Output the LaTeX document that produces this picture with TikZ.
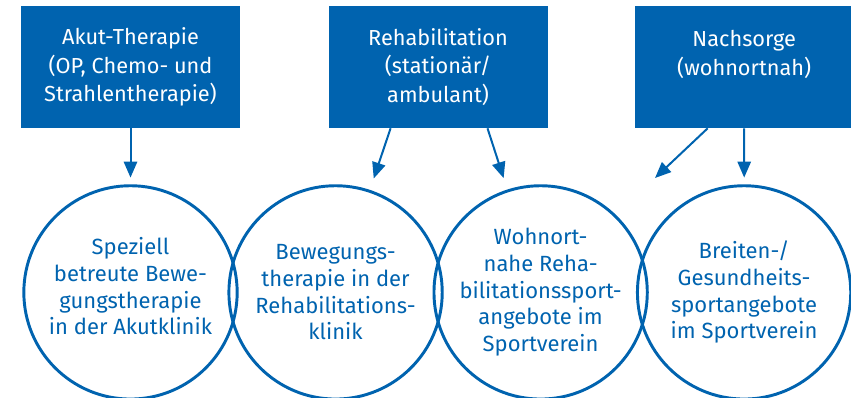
\documentclass[tikz,border=0pt]{standalone}
\usepackage{fontspec}
\setmainfont{Fira Sans}
\usetikzlibrary{arrows.meta, positioning}
\definecolor{dblue}{HTML}{0063AF}

\begin{document}
\begin{tikzpicture}[x=0.75pt, y=-0.75pt,
    phase/.style={fill=dblue, text=white, align=center,
                  minimum width=164.25pt, minimum height=91.5pt,
                  font=\fontsize{16.3}{21.4}\selectfont},
    offer/.style={circle, draw=dblue, line width=2.2pt, text=dblue,
                  align=center, inner sep=0pt, minimum size=160pt,
                  font=\fontsize{16.5}{20}\selectfont},
    arr/.style={-{Triangle[length=12pt, width=10pt]}, dblue,
                line width=1.5pt}]
  \useasboundingbox (0,0) rectangle (851,397);

  % phases
  \node[phase] (akut) at (130.5,67)
    {Akut-Therapie\\(OP, Chemo- und\\Strahlentherapie)};
  \node[phase, right=66pt of akut] (reha)
    {Rehabilitation\\(station\"ar/\\ambulant)};
  \node[phase, right=65pt of reha] (nach)
    {Nachsorge\\(wohnortnah)\\\mbox{}};

  % offers
  \node[offer, below=42pt of akut] (spez)
    {Speziell\\betreute Bewe-\\gungstherapie\\in der Akutklinik\\[-11pt]\mbox{}};
  \node[offer, right=-8.4pt of spez] (bew)
    {Bewegungs-\\therapie in der\\Rehabilitations-\\klinik};
  \node[offer, right=-8.4pt of bew] (wohn)
    {Wohnort-\\nahe Reha-\\bilitationssport-\\angebote im\\Sportverein};
  \node[offer, right=-9.6pt of wohn] (breit)
    {Breiten-/\\Gesundheits-\\sportangebote\\im Sportverein};
  \coordinate (gap) at (655,178);

  \draw[arr, shorten >=5pt] (akut) -- (spez);
  \draw[arr, shorten >=9pt] ([xshift=-35.6pt]reha.south) -- (bew);
  \draw[arr, shorten >=9pt] ([xshift=37.1pt]reha.south) -- (wohn);
  \draw[arr] ([xshift=-27.4pt]nach.south) -- (gap);
  \draw[arr, shorten >=5pt] (nach.south) -- (breit);
\end{tikzpicture}
\end{document}
